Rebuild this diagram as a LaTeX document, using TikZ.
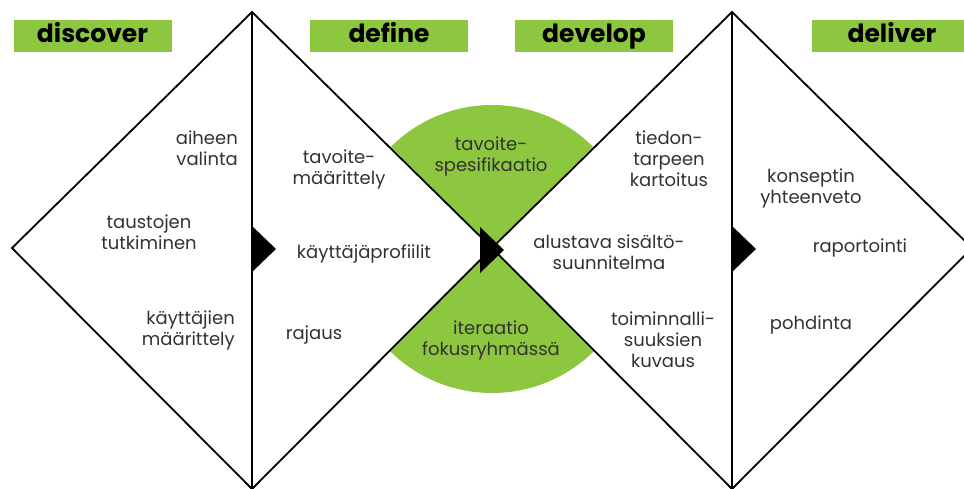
\documentclass[tikz,border=0pt]{standalone}
\usepackage{fontspec}
\setmainfont{Poppins}
\definecolor{lgreen}{RGB}{141,198,63}
\definecolor{txt}{RGB}{50,50,50}
\begin{document}
\begin{tikzpicture}[x=1pt,y=-1pt,
  hdr/.style={fill=lgreen,minimum width=158pt,minimum height=32pt,inner sep=0pt,
    text height=17pt,text depth=5pt,
    font=\fontsize{25}{25}\selectfont\bfseries,text=black},
  lbl/.style={font=\fontsize{18}{21}\selectfont,text=txt,inner sep=0pt},
  edge/.style={line width=1.8pt,line join=miter},
  tri/.style={fill=black}]
\useasboundingbox (0,0) rectangle (964,488);
\begin{scope}
\clip (0,0) rectangle (964,488);
% green sectors
\coordinate (c) at (492,248);
\fill[lgreen] (c) -- ++(225:143) arc[start angle=225,end angle=315,radius=143] -- cycle;
\fill[lgreen] (c) -- ++(135:145) arc[start angle=135,end angle=45,radius=145] -- cycle;
% diamonds
\coordinate (d1l) at (12,248);
\coordinate (d1t) at (252,12);
\coordinate (d1b) at (252,489);
\coordinate (d2t) at (732,12);
\coordinate (d2r) at (972,248);
\coordinate (d2b) at (732,489);
\draw[edge] (d1l) -- (d1t) -- (c) -- (d1b) -- cycle;
\draw[edge] (c) -- (d2t) -- (d2r) -- (d2b) -- cycle;
\draw[edge] (d1t) -- (d1b);
\draw[edge] (d2t) -- (d2b);
\end{scope}
% arrow triangles
\fill[tri] (252,226) -- (276,249) -- (252,272) -- cycle;
\fill[tri] (480,227) -- (504,250) -- (480,273) -- cycle;
\fill[tri] (732,226) -- (756,249) -- (732,272) -- cycle;
% headers
\node[hdr] (h1) at (92.5,36) {discover};
\node[hdr] (h2) at (389,36) {define};
\node[hdr] (h3) at (594,36) {develop};
\node[hdr,minimum width=160pt] (h4) at (892,36) {deliver};
% labels
\node[lbl,align=right,anchor=east] (a1) at (238,148) {aiheen\\valinta};
\node[lbl,align=center] (a2) at (149,232) {taustojen\\tutkiminen};
\node[lbl,align=right,anchor=east] (a3) at (235,330) {käyttäjien\\määrittely};
\node[lbl,align=center] (b1) at (339,169) {tavoite-\\määrittely};
\node[lbl,align=center] (b2) at (364,254) {käyttäjäprofiilit};
\node[lbl,align=center] (b3) at (314,335) {rajaus};
\node[lbl,align=center] (g1) at (491,156) {tavoite-\\spesifikaatio};
\node[lbl,align=center] (g2) at (491,340) {iteraatio\\fokusryhmässä};
\node[lbl,align=center] (c1) at (669,159) {tiedon-\\tarpeen\\kartoitus};
\node[lbl,align=center] (c2) at (609,252) {alustava sisältö-\\suunnitelma};
\node[lbl,align=center] (c3) at (663,340) {toiminnalli-\\suuksien\\kuvaus};
\node[lbl,align=center] (e1) at (811,188) {konseptin\\yhteenveto};
\node[lbl,align=center] (e2) at (860,248) {raportointi};
\node[lbl,align=center] (e3) at (811,325) {pohdinta};
\end{tikzpicture}
\end{document}
